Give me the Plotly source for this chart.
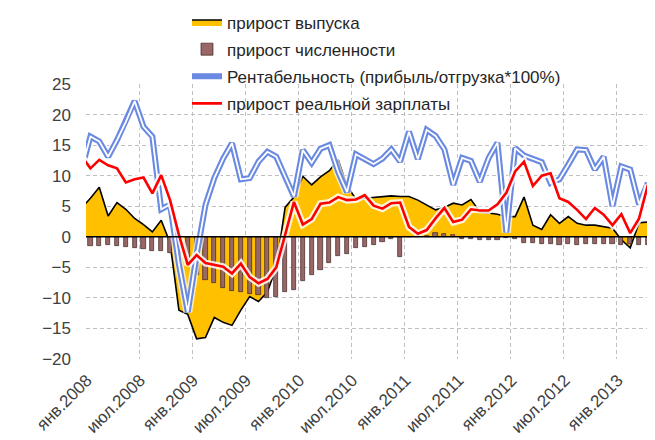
import plotly.graph_objects as go

# Month index: -1 = дек.2007, 0 = янв.2008 ... 64 = май 2013
month_index = list(range(-1, 65))
bar_index = list(range(0, 65))

# прирост выпуска, % (index -1 .. 64)
output_growth = [4.7,
                 6.3, 8.1, 3.4, 5.6, 4.5, 3.0, 2.0, 0.8, 2.7, -1.0,
                 -12.0, -12.7, -16.7, -16.5, -13.2, -14.0, -14.5, -12.0, -9.8, -10.6,
                 -9.0, -5.0, 4.8, 6.5, 9.9, 8.5, 9.8, 10.8, 12.6, 8.3,
                 6.2, 6.3, 6.4, 6.6, 6.7, 6.6, 6.6, 6.0, 5.2, 4.4,
                 4.8, 5.5, 5.2, 6.1, 4.1, 3.9, 3.7, 3.3, 3.3, 6.5,
                 1.9, 1.2, 3.6, 2.2, 3.3, 2.2, 1.9, 1.9, 1.7, 1.4,
                 -0.5, -1.8, 2.3, 2.4, -1.0]

# прирост численности, % (index 0 .. 64)
employment_growth = [-1.5, -1.5, -1.4, -1.5, -1.6, -1.8, -2.0, -2.3, -2.3, -2.6,
                     -3.0, -4.5, -6.2, -7.0, -7.6, -8.4, -8.8, -9.0, -9.3, -9.6,
                     -10.0, -9.8, -9.0, -8.7, -7.3, -6.3, -5.4, -4.3, -3.2, -2.8,
                     -1.9, -1.6, -1.3, -0.8, -0.4, -3.3, -0.1, 0.05, 0.1, 0.7,
                     0.5, 0.3, -0.4, -0.4, -0.5, -0.5, -0.6, -0.2, -0.4, -1.0,
                     -1.0, -1.1, -1.2, -1.3, -1.2, -1.3, -1.1, -1.1, -1.2, -1.2,
                     -1.3, -1.2, -1.3, -1.3, -1.3]

# Рентабельность (прибыль/отгрузка*100%) (index -1 .. 63)
profitability = [11.0,
                 16.4, 15.6, 13.1, 15.8, 18.8, 22.2, 18.0, 16.4, 4.5, 5.3,
                 -4.5, -12.3, -3.0, 5.2, 9.6, 12.8, 15.3, 9.4, 9.6, 12.3,
                 13.9, 13.1, 9.8, 6.6, 14.2, 12.1, 14.4, 15.0, 10.6, 7.3,
                 13.5, 12.7, 11.9, 12.8, 14.3, 12.3, 17.2, 12.7, 17.5, 16.5,
                 14.3, 8.5, 12.9, 12.4, 9.0, 12.9, 15.4, 0.7, 14.5, 13.3,
                 12.7, 12.2, 8.8, 9.4, 11.8, 14.3, 14.2, 11.0, 13.1, 5.0,
                 11.5, 11.0, 5.3, 8.8]

# прирост реальной зарплаты, % (index -1 .. 63)
real_wage_growth = [13.2,
                    11.2, 12.6, 11.7, 11.2, 8.9, 9.4, 9.7, 7.1, 10.1, 6.0,
                    0.3, -4.6, -3.0, -4.3, -4.6, -4.9, -6.0, -4.4, -6.6, -7.6,
                    -6.9, -5.0, 0.3, 5.7, 2.0, 2.9, 5.4, 5.6, 6.5, 6.0,
                    6.1, 6.8, 5.1, 4.6, 5.5, 5.6, 1.6, 0.5, 1.1, 3.0,
                    4.7, 2.4, 2.8, 4.5, 4.3, 4.3, 5.3, 7.2, 10.7, 12.3,
                    8.3, 10.0, 10.4, 6.3, 5.7, 4.4, 2.9, 4.7, 3.6, 1.9,
                    3.7, 0.6, 3.0, 8.5]

tick_labels = ["янв.2008", "июл.2008", "янв.2009", "июл.2009", "янв.2010",
               "июл.2010", "янв.2011", "июл.2011", "янв.2012", "июл.2012",
               "янв.2013"]

line_x = month_index[:len(profitability)]

fig = go.Figure()
fig.add_trace(go.Scatter(
    x=month_index, y=output_growth, name="прирост выпуска", mode="lines",
    fill="tozeroy", fillcolor="#FFC000", legendgroup="g1",
    line=dict(color="black", width=1.6), xaxis="x", yaxis="y"))
fig.add_trace(go.Bar(
    x=bar_index, y=employment_growth, name="прирост численности", legendgroup="g2",
    marker=dict(color="#9a6767", line=dict(color="#3b2323", width=0.7)),
    width=0.47, xaxis="x", yaxis="y2"))
fig.add_trace(go.Scatter(
    x=line_x, y=profitability, mode="lines", showlegend=False, hoverinfo="skip",
    legendgroup="g3",
    line=dict(color="rgba(255,255,255,0.7)", width=9), xaxis="x", yaxis="y2"))
fig.add_trace(go.Scatter(
    x=line_x, y=profitability, mode="lines", legendgroup="g3",
    name="Рентабельность (прибыль/отгрузка*100%)",
    line=dict(color="#6a8ae2", width=6), xaxis="x", yaxis="y2"))
fig.add_trace(go.Scatter(
    x=line_x, y=profitability, mode="lines", showlegend=False, hoverinfo="skip",
    legendgroup="g3",
    line=dict(color="white", width=1.8), xaxis="x", yaxis="y2"))
fig.add_trace(go.Scatter(
    x=line_x, y=real_wage_growth, mode="lines", showlegend=False, hoverinfo="skip",
    legendgroup="g4",
    line=dict(color="rgba(255,255,255,0.85)", width=7), xaxis="x", yaxis="y2"))
fig.add_trace(go.Scatter(
    x=line_x, y=real_wage_growth, mode="lines", name="прирост реальной зарплаты",
    legendgroup="g4",
    line=dict(color="#ff0000", width=2.6), xaxis="x", yaxis="y2"))

fig.add_hline(y=0, line_color="black", line_width=1.5, layer="above")

grid = dict(showgrid=True, gridcolor="#BFBFBF", gridwidth=1, griddash="4px,3px",
            zeroline=False, showline=False, ticks="", automargin=False)

# The page body adds an 8px offset, so the figure is 8px smaller than the window.
fig.update_layout(
    width=647, height=432,
    margin=dict(l=78, r=0, t=76, b=81, autoexpand=False),
    plot_bgcolor="white", paper_bgcolor="white",
    font=dict(family="Liberation Sans, Arial, sans-serif", size=17, color="#404040"),
    bargap=0,
    legend=dict(x=0.1775, y=1.289, xref="paper", yref="paper",
                xanchor="left", yanchor="top", bgcolor="rgba(0,0,0,0)",
                font=dict(size=17, color="#262626"), traceorder="grouped",
                tracegroupgap=2),
    xaxis=dict(range=[-0.5, 63.8],
               tickvals=[-0.5 + 6 * k for k in range(len(tick_labels))],
               ticktext=tick_labels, tickangle=-45,
               ticklabelshift=1, ticklabelstandoff=7, **grid),
    yaxis=dict(range=[-20, 25], tickvals=list(range(-20, 30, 5)),
               ticklabelstandoff=14, **grid),
    yaxis2=dict(range=[-20, 25], overlaying="y", visible=False),
)

fig.write_html("out.html")
